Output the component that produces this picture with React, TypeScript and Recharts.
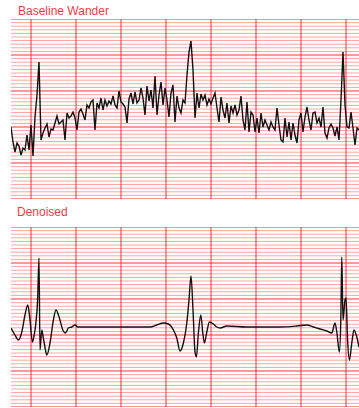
import { LineChart, Line, XAxis, YAxis, ReferenceLine } from 'recharts'

// raw trace, one sample every 10 ms (amplitude in arbitrary units, 0..180)
const NOISY = [
  72, 57, 47, 56, 53, 44, 51, 49, 64, 49, 74, 43, 82, 104, 137, 59, 66, 71, 75, 62,
  70, 69, 76, 83, 75, 77, 79, 59, 86, 81, 83, 87, 81, 69, 87, 90, 85, 79, 94, 91,
  97, 99, 69, 96, 91, 101, 89, 99, 93, 98, 95, 103, 94, 91, 108, 97, 95, 92, 76, 100,
  106, 95, 107, 96, 99, 111, 101, 84, 113, 98, 109, 91, 123, 84, 104, 117, 94, 111, 99, 82,
  106, 114, 77, 103, 91, 86, 99, 96, 124, 147, 158, 129, 81, 106, 91, 105, 99, 104, 94, 100,
  95, 101, 106, 91, 77, 102, 89, 81, 96, 76, 93, 86, 94, 84, 89, 103, 79, 69, 97, 67,
  87, 84, 67, 81, 66, 86, 72, 79, 74, 69, 77, 72, 69, 91, 74, 59, 57, 81, 62, 77,
  59, 76, 64, 56, 79, 86, 67, 82, 92, 79, 69, 86, 87, 76, 81, 72, 92, 66, 61, 71,
  75, 71, 63, 72, 59, 99, 147, 94, 72, 71, 87, 71, 54, 71, 69,
]
const SAMPLE_MS = 10

// denoised trace, key points
const CLEAN_T = [
  0, 20, 37, 54, 70, 84, 95, 107, 115, 125, 133, 140, 145, 154, 160, 168, 179, 195, 212, 225,
  242, 259, 272, 287, 304, 320, 335, 445, 570, 660, 695, 729, 762, 787, 812, 829, 845, 862, 879, 890,
  900, 910, 920, 927, 937, 949, 959, 967, 979, 992, 1012, 1029, 1045, 1079, 1179, 1345, 1429, 1479, 1512, 1545,
  1579, 1604, 1620, 1629, 1642, 1649, 1654, 1660, 1670, 1675, 1683, 1692, 1704, 1715, 1729, 1740,
]
const CLEAN_V = [
  79, 72, 67, 75, 92, 102, 87, 65, 71, 85, 107, 149, 57, 77, 71, 62, 52, 64, 87, 97,
  89, 77, 74, 79, 80, 82, 80, 80, 80, 80, 80, 82, 84, 83, 77, 69, 56, 64, 84, 107,
  131, 97, 55, 50, 74, 92, 74, 64, 75, 85, 83, 80, 79, 81, 80, 80, 81, 82, 80, 78,
  76, 74, 84, 75, 55, 87, 150, 87, 107, 109, 67, 47, 64, 77, 70, 60,
]

const TIME_TICKS = [100, 325, 550, 775, 1000, 1225, 1450, 1675]
const MAJOR = [0, 36, 72, 108, 144, 180]
const MINOR: number[] = []
for (let i = 0; i <= 50; i++) if (i % 10 !== 0) MINOR.push(+(i * 3.6).toFixed(1))

const noisyData = NOISY.map((v, i) => ({ t: i * SAMPLE_MS, v }))
const cleanData = CLEAN_T.map((t, i) => ({ t, v: CLEAN_V[i] }))

const W = 348
const H = 180
const RED = '#f2303b'
const PINK = '#ffa4a8'

function Strip({ data, curve }: { data: { t: number; v: number }[]; curve: 'linear' | 'monotone' }) {
  return (
    <LineChart width={W} height={H} data={data} margin={{ top: 0, right: 0, bottom: 0, left: 0 }}>
      <XAxis dataKey="t" type="number" domain={[0, 1740]} hide />
      <YAxis type="number" domain={[0, 180]} hide />
      {MINOR.map((y) => (
        <ReferenceLine key={'m' + y} y={y} stroke={PINK} strokeWidth={1} ifOverflow="visible" />
      ))}
      {MAJOR.map((y) => (
        <ReferenceLine key={'M' + y} y={y} stroke={RED} strokeWidth={1} ifOverflow="visible" />
      ))}
      {TIME_TICKS.map((t) => (
        <ReferenceLine key={'t' + t} x={t} stroke={RED} strokeWidth={1} />
      ))}
      <Line
        type={curve}
        dataKey="v"
        stroke="#111"
        strokeWidth={1.4}
        dot={false}
        isAnimationActive={false}
      />
    </LineChart>
  )
}

const titleStyle = {
  position: 'absolute' as const,
  fontFamily: '"Liberation Sans", Arial, sans-serif',
  fontSize: 12,
  color: '#ee3b47',
  lineHeight: '14px',
}

export default function App() {
  return (
    <div style={{ position: 'absolute', left: 0, top: 0, width: 359, height: 408, background: '#fff', overflow: 'hidden' }}>
      <div style={{ ...titleStyle, left: 18, top: 4 }}>Baseline Wander</div>
      <div style={{ position: 'absolute', left: 11, top: 19 }}>
        <Strip data={noisyData} curve="linear" />
      </div>
      <div style={{ ...titleStyle, left: 17, top: 205 }}>Denoised</div>
      <div style={{ position: 'absolute', left: 11, top: 227 }}>
        <Strip data={cleanData} curve="monotone" />
      </div>
    </div>
  )
}
